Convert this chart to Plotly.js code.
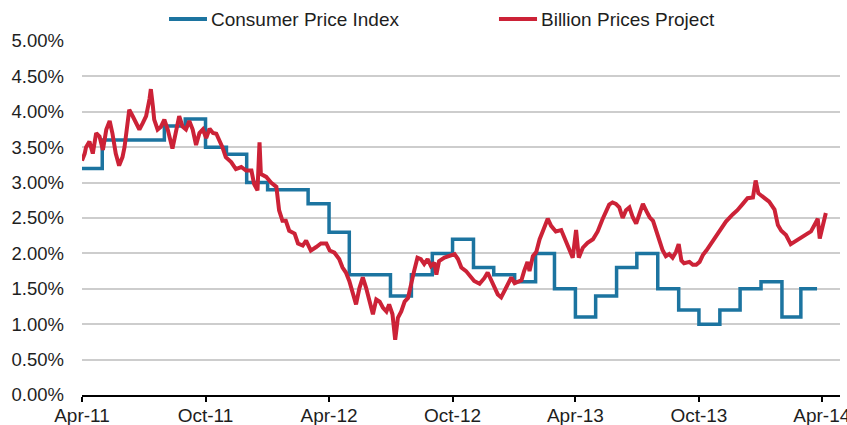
<!DOCTYPE html>
<html>
<head>
<meta charset="utf-8">
<script src="https://cdn.plot.ly/plotly-3.0.1.min.js"></script>
<style>
  html, body { margin: 0; padding: 0; background: #ffffff; }
  #chart { width: 847px; height: 425px; }
</style>
</head>
<body>
<div id="chart"></div>
<script>
// ---- Data ----
const seriesNames = ['Consumer Price Index', 'Billion Prices Project'];
const seriesColors = ['#1c74a0', '#cc2237'];

// CPI year-over-year inflation (%), monthly step values
const cpiDates = ['2011-04-01','2011-05-01','2011-06-01','2011-07-01','2011-08-01','2011-09-01','2011-10-01','2011-11-01','2011-12-01',
  '2012-01-01','2012-02-01','2012-03-01','2012-04-01','2012-05-01','2012-06-01','2012-07-01','2012-08-01','2012-09-01','2012-10-01','2012-11-01','2012-12-01',
  '2013-01-01','2013-02-01','2013-03-01','2013-04-01','2013-05-01','2013-06-01','2013-07-01','2013-08-01','2013-09-01','2013-10-01','2013-11-01','2013-12-01',
  '2014-01-01','2014-02-01','2014-03-01','2014-03-25'];
const cpiValues = [3.2,3.6,3.6,3.6,3.8,3.9,3.5,3.4,3.0,
  2.9,2.9,2.7,2.3,1.7,1.7,1.4,1.7,2.0,2.2,1.8,1.7,
  1.6,2.0,1.5,1.1,1.4,1.8,2.0,1.5,1.2,1.0,1.2,1.5,
  1.6,1.1,1.5,1.5];

// Billion Prices Project inflation (%), days since 2011-04-01
const bppStart = '2011-04-01';
const bppDays = [0,4,6,11,16,21,26,31,36,41,45,50,55,60,63,68,70,75,80,85,90,95,100,102,105,107,112,117,122,127,134,139,144,149,154,159,164,169,174,179,184,189,194,
  199,204,208,213,221,228,236,243,251,255,260,263,265,273,280,288,292,297,302,307,315,320,327,332,339,347,354,362,367,374,381,
  386,391,396,401,406,411,416,421,426,431,436,441,446,451,455,460,464,468,473,478,483,488,492,497,502,507,512,517,522,525,529,537,544,552,557,562,
  569,574,581,589,596,601,606,611,616,621,626,631,636,641,646,651,655,660,663,668,673,678,683,688,690,695,702,710,715,720,725,727,732,736,742,749,757,764,
  771,777,781,786,791,796,801,806,811,816,821,826,831,836,841,846,851,855,860,865,870,875,880,884,888,892,900,905,910,915,920,925,932,939,947,954,
  964,971,979,986,994,998,1002,1008,1018,1026,1031,1036,1043,1050,1055,1063,1073,1080,1088,1090,1093,1097,1102];
const bppValues = [3.31,3.41,3.50,3.58,3.41,3.70,3.65,3.46,3.75,3.87,3.70,3.41,3.24,3.36,3.50,3.84,4.03,3.94,3.84,3.75,3.84,3.94,4.18,4.32,4.08,3.89,3.75,3.79,3.89,3.75,3.48,3.70,3.94,3.79,3.75,3.87,3.75,3.53,3.70,3.75,3.63,3.76,3.70,
  3.69,3.60,3.50,3.36,3.29,3.19,3.22,3.17,3.17,2.98,2.89,3.57,3.12,3.08,3.00,2.94,2.61,2.46,2.46,2.32,2.28,2.14,2.11,2.18,2.04,2.09,2.14,2.14,2.04,2.01,1.92,
  1.80,1.73,1.61,1.42,1.28,1.51,1.66,1.51,1.32,1.14,1.35,1.32,1.23,1.18,1.28,1.14,0.78,1.09,1.18,1.32,1.37,1.61,1.75,1.94,1.92,1.85,1.92,1.82,1.87,1.70,1.89,1.94,1.96,1.99,1.92,1.80,
  1.75,1.70,1.61,1.57,1.65,1.73,1.62,1.53,1.42,1.38,1.47,1.58,1.66,1.58,1.60,1.62,1.75,1.88,1.75,1.96,2.02,2.20,2.32,2.45,2.49,2.39,2.31,2.33,2.21,2.08,1.96,1.94,2.33,1.94,2.08,2.15,2.20,2.31,
  2.48,2.61,2.69,2.72,2.70,2.65,2.50,2.61,2.65,2.51,2.42,2.56,2.70,2.60,2.51,2.46,2.32,2.18,2.05,1.96,1.99,1.94,2.02,2.13,1.90,1.86,1.88,1.84,1.84,1.88,1.98,2.04,2.14,2.25,2.34,2.45,
  2.55,2.61,2.70,2.78,2.79,3.03,2.85,2.80,2.73,2.62,2.40,2.32,2.26,2.13,2.16,2.21,2.27,2.31,2.45,2.49,2.21,2.36,2.57];

const yTickValues = [0,0.5,1,1.5,2,2.5,3,3.5,4,4.5,5];
const xRange = ['2011-04-01', '2014-04-28'];

// ---- Helpers ----
function dayToDate(d) {
  const p = bppStart.split('-').map(Number);
  const t = Date.UTC(p[0], p[1] - 1, p[2]) + d * 86400000;
  return new Date(t).toISOString().slice(0, 10);
}
const bppDates = bppDays.map(dayToDate);
const yTickText = yTickValues.map(v => v.toFixed(2) + '%');

const FONT = '"Liberation Sans", Arial, sans-serif';
const TXT = '#1e1e1e';

const traces = [
  {
    type: 'scatter', mode: 'lines', name: seriesNames[0],
    x: cpiDates, y: cpiValues,
    line: { color: seriesColors[0], width: 3.5, shape: 'hv' },
    hoverinfo: 'skip', showlegend: false
  },
  {
    type: 'scatter', mode: 'lines', name: seriesNames[1],
    x: bppDates, y: bppValues,
    line: { color: seriesColors[1], width: 4 },
    hoverinfo: 'skip', showlegend: false
  }
];

// Legend drawn in paper coordinates (swatch + label), like the reference
const legendY = 1.062;
const legendItems = [
  { x0: 0.1148, x1: 0.1649, tx: 0.1675 },
  { x0: 0.5501, x1: 0.6003, tx: 0.6029 }
];
const shapes = legendItems.map((it, i) => ({
  type: 'line', xref: 'paper', yref: 'paper',
  x0: it.x0, x1: it.x1, y0: legendY, y1: legendY,
  line: { color: seriesColors[i], width: 4 }
}));
const annotations = legendItems.map((it, i) => ({
  xref: 'paper', yref: 'paper', x: it.tx, y: legendY,
  xanchor: 'left', yanchor: 'middle', showarrow: false,
  text: seriesNames[i],
  font: { family: FONT, size: 19, color: TXT }
}));

const layout = {
  width: 847, height: 425,
  margin: { l: 82, r: 7, t: 41, b: 30, pad: 0 },
  paper_bgcolor: '#ffffff', plot_bgcolor: '#ffffff',
  font: { family: FONT, size: 19, color: TXT },
  showlegend: false,
  shapes: shapes,
  annotations: annotations,
  xaxis: {
    type: 'date', range: xRange,
    tick0: '2011-04-01', dtick: 'M6', tickformat: '%b-%y',
    showgrid: false, zeroline: false,
    showline: true, linecolor: '#000000', linewidth: 2,
    ticks: 'outside', ticklen: 5, tickwidth: 2, tickcolor: '#000000',
    ticklabelstandoff: -3, ticklabeloverflow: 'allow',
    tickfont: { family: FONT, size: 19, color: TXT },
    fixedrange: true
  },
  yaxis: {
    range: [0, 5], tickmode: 'array', tickvals: yTickValues, ticktext: yTickText,
    showgrid: true, gridcolor: '#cdcdcd', gridwidth: 2,
    zeroline: false, showline: false, ticks: '',
    ticklabelstandoff: 17,
    tickfont: { family: FONT, size: 18.5, color: TXT },
    fixedrange: true
  }
};

Plotly.newPlot('chart', traces, layout, { displayModeBar: false, staticPlot: true });
</script>
</body>
</html>
